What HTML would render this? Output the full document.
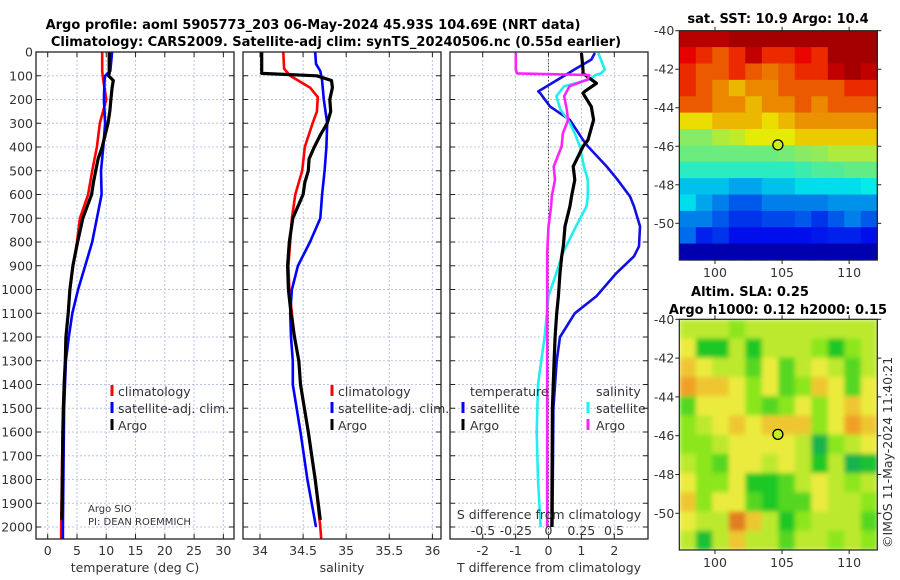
<!DOCTYPE html>
<html><head><meta charset="utf-8">
<style>
html,body{margin:0;padding:0;background:#fff;}
svg{display:block;font-family:"DejaVu Sans","Liberation Sans",sans-serif;}
.t{font-size:12.5px;fill:#333;}
.b{font-weight:bold;font-size:13px;fill:#000;}
</style></head>
<body>
<svg id="fig" width="900" height="580" viewBox="0 0 900 580">
<defs>
<filter id="blur" x="0" y="0" width="1" height="1"><feGaussianBlur stdDeviation="2.5" edgeMode="duplicate"/></filter>
<clipPath id="slaClip"><rect x="679.3" y="319.3" width="198" height="230.7"/></clipPath>
</defs>
<text class="b" x="313" y="29" text-anchor="middle">Argo profile: aoml 5905773_203 06-May-2024 45.93S 104.69E (NRT data)</text>
<text class="b" x="336" y="46" text-anchor="middle">Climatology: CARS2009. Satellite-adj clim: synTS_20240506.nc (0.55d earlier)</text>
<text class="b" x="778" y="23" text-anchor="middle">sat. SST: 10.9 Argo: 10.4</text>
<text class="b" x="750" y="296" text-anchor="middle">Altim. SLA: 0.25</text>
<text class="b" x="778" y="314" text-anchor="middle">Argo h1000: 0.12 h2000: 0.15</text>
<text class="t" x="0" y="0" transform="translate(892,548) rotate(-90)">©IMOS 11-May-2024 11:40:21</text>
<g id="g"></g>
</svg>
<script>
// ---- profile data (depth in dbar) ----
const tDepth = [0,80,100,120,200,300,400,500,600,700,800,900,1000,1100,1200,1300,1500,2000,2050];
const tClim  = [9.3,9.3,9.4,9.5,10,8.9,8.4,7.6,6.9,5.5,5.0,4.3,3.8,3.5,3.1,3.0,2.6,2.3,2.3];
const tSat   = [11.0,10.7,9.8,9.7,9.6,9.8,9.5,9.1,9.2,8.4,7.6,6.4,5.2,4.2,3.6,3.1,2.8,2.6,2.6];
const argoDepth = [0,90,100,120,150,200,250,300,350,400,450,500,550,600,700,800,900,1000,1100,1200,1300,1400,1600,1800,1970];
const tArgo = [10.5,10.5,10.4,11.2,11.0,10.8,10.6,10.3,9.8,9.3,8.6,8.2,7.8,7.5,6.0,5.1,4.3,3.8,3.5,3.1,3.0,2.8,2.6,2.5,2.4];
const sArgo = [34.02,34.02,34.66,34.83,34.84,34.81,34.82,34.78,34.70,34.63,34.57,34.56,34.52,34.50,34.38,34.34,34.32,34.33,34.36,34.40,34.45,34.47,34.56,34.64,34.70];
const sDepth = [0,70,100,150,190,250,300,400,500,600,700,800,900,1000,1100,1200,1300,1400,1600,1800,2000,2050];
const sClim = [34.27,34.28,34.35,34.58,34.67,34.66,34.61,34.52,34.49,34.41,34.37,34.35,34.33,34.34,34.37,34.40,34.45,34.47,34.56,34.64,34.70,34.71];
const sSatDepth = [0,50,80,120,200,300,400,500,600,700,800,900,1000,1100,1200,1300,1400,1600,1800,2000];
const sSat = [34.64,34.65,34.70,34.72,34.74,34.78,34.77,34.75,34.72,34.70,34.58,34.44,34.37,34.35,34.36,34.38,34.38,34.47,34.55,34.65];
// differences
const dDepth = [4,32,74,90,132,166,174,230,286,370,398,482,538,609,650,734,818,860,930,1028,1100,1200,1300,1500,2000];
const dTArgo = [1.0,1.02,1.05,1.05,1.46,1.1,1.05,1.3,1.37,1.2,1.05,0.75,0.8,0.7,0.65,0.5,0.45,0.4,0.35,0.3,0.25,0.2,0.17,0.12,0.1];
const dTSat  = [1.41,1.3,0.78,0.6,0.1,-0.31,-0.25,0.05,0.65,1.05,1.2,1.77,2.1,2.48,2.6,2.78,2.75,2.6,2.07,1.46,0.8,0.35,0.25,0.15,0.12];
const dSDepth = [4,74,90,97,116,144,186,242,286,342,398,482,538,608,650,734,846,930,1028,1200,1400,1600,1800,2000];
const dSSat = [0.38,0.43,0.4,0.36,0.31,0.12,0.06,0.09,0.15,0.2,0.24,0.27,0.30,0.30,0.29,0.21,0.11,0.06,0.0,-0.03,-0.08,-0.09,-0.08,-0.06];
const dSArgo = [-0.25,-0.25,-0.24,0.31,0.3,0.16,0.12,0.14,0.15,0.11,0.10,0.04,0.05,0.025,0.02,0.0,-0.01,-0.01,-0.01,-0.01,-0.01,-0.01,-0.01,-0.01];
// ---- axis ticks ----
const depthTicks = [0,100,200,300,400,500,600,700,800,900,1000,1100,1200,1300,1400,1500,1600,1700,1800,1900,2000];
const tTicks = [0,5,10,15,20,25,30];
const sTicks = [34,34.5,35,35.5,36];
const sTickLabels = ["34","34.5","35","35.5","36"];
const dTTicks = [-2,-1,0,1,2];
const dSTicks = [-0.5,-0.25,0,0.25,0.5];
const dSTickLabels = ["-0.5","-0.25","0","0.25","0.5"];
const latTicks = [-40,-42,-44,-46,-48,-50];
const lonTicks = [100,105,110];
// ---- map data (coarse grids, north to south) ----
const sstGrid = [
[9.3,9.3,9.3,9.5,9.5,9.5,9.5,9.5,9.5,9.5,9.5,9.5],
[8.8,8.3,7.8,8.3,9.2,8.3,8.3,8.7,8.3,9.5,9.5,9.5],
[8.3,7.8,7.8,8.3,7.8,7.5,7.8,8.3,8.3,9.2,9.5,9.2],
[8.3,7.8,7.3,6.8,7.3,7.3,7.8,7.8,7.8,7.8,8.3,8.3],
[7.8,7.8,7.3,7.3,6.8,7.3,7.3,7.8,7.3,7.8,7.8,7.8],
[6.4,6.4,6.8,6.8,6.8,6.4,6.8,7.2,7.2,7.2,7.2,7.2],
[5.2,5.2,5.6,5.8,6.2,6.2,6.2,6.6,6.6,6.6,6.6,6.6],
[4.9,4.9,4.9,4.9,4.9,4.9,5.0,5.2,5.3,5.6,5.6,5.6],
[4.2,4.2,4.2,4.2,4.2,4.2,4.2,4.4,4.6,4.6,4.8,4.8],
[3.3,3.3,3.3,3.0,3.0,3.3,3.3,3.6,3.6,3.6,3.6,3.8],
[3.6,3.0,2.6,2.2,2.2,2.6,2.6,2.6,2.6,2.8,2.8,2.8],
[2.6,2.6,2.2,1.8,1.8,2.0,2.0,2.2,1.8,2.2,2.6,2.2],
[2.4,1.6,1.8,1.4,1.4,1.4,1.4,1.4,1.5,1.6,1.6,1.4],
[0.6,0.6,0.6,0.6,0.6,0.6,0.6,0.6,0.6,0.6,0.6,0.6]];
const slaGrid = [
[2.5,2.5,2.5,2,2.5,2.5,2.5,2.5,2.5,2.5,2.5,2.5],
[3,1,1,2.5,1,2.5,2.5,2.5,2,1,2,2.5],
[3.5,3,2.5,2.5,1.5,3,1.5,2.5,3,2.5,1.5,2.5],
[4,3.5,3.5,3,2,3,1.5,2,3.5,3,1.5,3],
[1.5,3,3,3,2,1.5,2,3,2,3,3.5,3],
[2,2.5,3,3.5,3,3.5,3.5,3.5,2,3,4,3.5],
[2,2,2.5,3,3,3,3,2.5,0.5,2,2.5,3],
[2.5,2,1.5,3,3,2.5,3,2.5,1,2.5,0.5,0.8],
[3,2,2,3,1,1,1.5,2.5,3,2.5,2,2.5],
[3.5,2,3,3,1.5,1,1.5,1.5,3,2.5,2.5,2],
[3,2.5,2.5,4.5,3.5,2.5,1,2,2.5,2.5,2.5,1.5],
[2.5,0.8,2.5,3.5,2.5,2.5,1.5,2.5,2.5,2,2.5,2]];

const NS='http://www.w3.org/2000/svg';
const G=document.getElementById('g');
function mk(tag,at,parent){const e=document.createElementNS(NS,tag);for(const k in at)e.setAttribute(k,at[k]);(parent||G).appendChild(e);return e;}
const yD = d => 52 + d*0.2375;
const TOP=52, BOT=539;
const xT = v => 47.7 + v*5.855;
const xS = v => 260 + (v-34)*86.2;
const xDT = v => 548.5 + v*32.9;
const xDS = v => 548.5 + v*131;

function panel(x0,x1,vx,vt,name){
  const g=mk('g',{});
  
  
  vt.forEach(v=>{const x=vx(v);mk('line',{x1:x,x2:x,y1:TOP,y2:BOT,stroke:'#b8c4e8','stroke-width':1,'stroke-dasharray':'2,2'},g);
    mk('line',{x1:x,x2:x,y1:BOT,y2:BOT-5,stroke:'#222'},g);mk('line',{x1:x,x2:x,y1:TOP,y2:TOP+5,stroke:'#222'},g);});
  depthTicks.forEach(d=>{const y=yD(d);mk('line',{x1:x0,x2:x1,y1:y,y2:y,stroke:'#b8c4e8','stroke-width':1,'stroke-dasharray':'2,2'},g);
    mk('line',{x1:x0,x2:x0+5,y1:y,y2:y,stroke:'#222'},g);mk('line',{x1:x1,x2:x1-5,y1:y,y2:y,stroke:'#222'},g);});
  return g;
}
function frame(x0,x1,name){const r=mk('rect',{x:x0,y:TOP,width:x1-x0,height:BOT-TOP,fill:'none',stroke:'#222','stroke-width':1.3});
  
  }
function line(xs,ds,fx,color,name,w){
  const pts=xs.map((v,i)=>fx(v).toFixed(1)+','+yD(ds[i]).toFixed(1)).join(' ');
  const p=mk('polyline',{points:pts,fill:'none',stroke:color,'stroke-width':w||2.6,'stroke-linejoin':'round'});
  
  
}
function txt(x,y,s,anchor,name,size){const t=mk('text',{x:x,y:y,'text-anchor':anchor||'start',class:'t'});if(size)t.setAttribute('style','font-size:'+size+'px');t.textContent=s;
  
  
  return t;}

// Panel 1
panel(36,234,xT,tTicks,'temperature-panel');
line(tClim,tDepth,xT,'#ff0000','temp-climatology-line');
line(tSat,tDepth,xT,'#0000ff','temp-satellite-line');
line(tArgo,argoDepth,xT,'#000000','temp-argo-line',3.2);
frame(36,234,'temperature-axes');
depthTicks.forEach(d=>txt(33,yD(d)+4.5,String(d),'end','depth-tick-label'));
tTicks.forEach(v=>txt(xT(v),555,String(v),'middle','temp-tick-label'));
txt(135,572,'temperature (deg C)','middle','temp-axis-title');
// Panel 2
panel(243,441,xS,sTicks,'salinity-panel');
line(sClim,sDepth,xS,'#ff0000','sal-climatology-line');
line(sSat,sSatDepth,xS,'#0000ff','sal-satellite-line');
line(sArgo,argoDepth,xS,'#000000','sal-argo-line',3.2);
frame(243,441,'salinity-axes');
sTicks.forEach((v,i)=>txt(xS(v),555,sTickLabels[i],'middle','sal-tick-label'));
txt(342,572,'salinity','middle','sal-axis-title');
// Panel 3
panel(450,648,xDT,dTTicks,'difference-panel');
mk('line',{x1:xDT(0),x2:xDT(0),y1:TOP,y2:BOT,stroke:'#445533','stroke-dasharray':'1.5,2'});
line(dTSat,dDepth,xDT,'#1010e0','diff-temp-satellite-line');
line(dSSat,dSDepth,xDS,'#22eeee','diff-sal-satellite-line');
line(dTArgo,dDepth,xDT,'#000000','diff-temp-argo-line',3.2);
line(dSArgo,dSDepth,xDS,'#ff22ff','diff-sal-argo-line');
frame(450,648,'difference-axes');
dTTicks.forEach(v=>txt(xDT(v),555,String(v),'middle','dtemp-tick-label'));
txt(549,572,'T difference from climatology','middle','dtemp-axis-title');
dSTicks.forEach((v,i)=>txt(xDS(v),535,dSTickLabels[i],'middle','dsal-tick-label'));
txt(549,519,'S difference from climatology','middle','dsal-axis-title');

// Legends
function legMark(x,y,c){const r=mk('rect',{x:x-1.5,y:y-7,width:3,height:11,fill:c});
  
  }
[['climatology','#f00'],['satellite-adj. clim.','#00f'],['Argo','#000']].forEach((e,i)=>{
  legMark(112,392+i*17,e[1]);txt(118,396+i*17,e[0],'start','legend-entry');
  legMark(332,392+i*17,e[1]);txt(338,396+i*17,e[0],'start','legend-entry');});
txt(470,396,'temperature','start','legend-header-temperature');
txt(596,396,'salinity','start','legend-header-salinity');
legMark(463,409,'#00f');txt(470,413,'satellite','start','legend-entry');
legMark(463,426,'#000');txt(470,430,'Argo','start','legend-entry');
legMark(588,409,'#2ee');txt(596,413,'satellite','start','legend-entry');
legMark(588,426,'#f2f');txt(596,430,'Argo','start','legend-entry');
txt(88,512,'Argo SIO','start','argo-institution',10);
txt(88,525,'PI: DEAN ROEMMICH','start','argo-pi',10);

// Maps
function jet(t){t=Math.max(0,Math.min(1,t));
  const r=Math.max(0,Math.min(1,1.5-Math.abs(4*t-3))),g=Math.max(0,Math.min(1,1.5-Math.abs(4*t-2))),b=Math.max(0,Math.min(1,1.5-Math.abs(4*t-1)));
  return 'rgb('+Math.round(r*235)+','+Math.round(g*235)+','+Math.round(b*235)+')';}
const slaStops=[[0,[20,160,110]],[1,[30,200,40]],[2,[140,230,30]],[3,[235,235,60]],[4,[240,160,40]],[5,[210,90,30]]];
function slaCol(v){for(let i=0;i<slaStops.length-1;i++){const a=slaStops[i],b=slaStops[i+1];if(v<=b[0]||i==slaStops.length-2){const f=Math.max(0,Math.min(1,(v-a[0])/(b[0]-a[0])));
  return 'rgb('+a[1].map((c,k)=>Math.round(c+(b[1][k]-c)*f)).join(',')+')';}}}
const MX0=679.3,MX1=877.3,LON0=97.34,LON1=112.1;
const xLon=l=>MX0+(l-LON0)/(LON1-LON0)*(MX1-MX0);
function map(grid,y0,y1,latPx,colf,name,smooth){
  const g=mk('g',{});
  
  
  let cells=g;
  if(smooth){const outer=mk('g',{'clip-path':'url(#slaClip)'},g);cells=mk('g',{filter:'url(#blur)'},outer);}
  const R=grid.length,C=grid[0].length,cw=(MX1-MX0)/C,ch=(y1-y0)/R;
  grid.forEach((row,i)=>row.forEach((v,j)=>{const c=mk('rect',{x:(MX0+j*cw).toFixed(2),y:(y0+i*ch).toFixed(2),width:(cw+0.6).toFixed(2),height:(ch+0.6).toFixed(2),fill:colf(v)},cells);
    
    }));
  mk('rect',{x:MX0,y:y0,width:MX1-MX0,height:y1-y0,fill:'none',stroke:'#222','stroke-width':1.2},g);
  const yLat=l=>y0+(-40-l)*latPx;
  latTicks.forEach(l=>{const y=yLat(l);mk('line',{x1:MX0-4,x2:MX0,y1:y,y2:y,stroke:'#222'},g);mk('line',{x1:MX1,x2:MX1+4,y1:y,y2:y,stroke:'#222'},g);
    txt(MX0-5,y+4.5,String(l),'end','lat-tick-label');});
  lonTicks.forEach(l=>{const x=xLon(l);mk('line',{x1:x,x2:x,y1:y1,y2:y1+4,stroke:'#222'},g);mk('line',{x1:x,x2:x,y1:y0-4,y2:y0,stroke:'#222'},g);
    txt(x,y1+17,String(l),'middle','lon-tick-label');});
  const c=mk('circle',{cx:xLon(104.69),cy:yLat(-45.93),r:5,fill:'#c8f020',stroke:'#000','stroke-width':1.3},g);
  
  
}
map(sstGrid,30.7,260,19.26,v=>jet(v/10),'sst-map',false);
map(slaGrid,319.3,550,19.4,slaCol,'sla-map',true);
</script>
</body></html>
